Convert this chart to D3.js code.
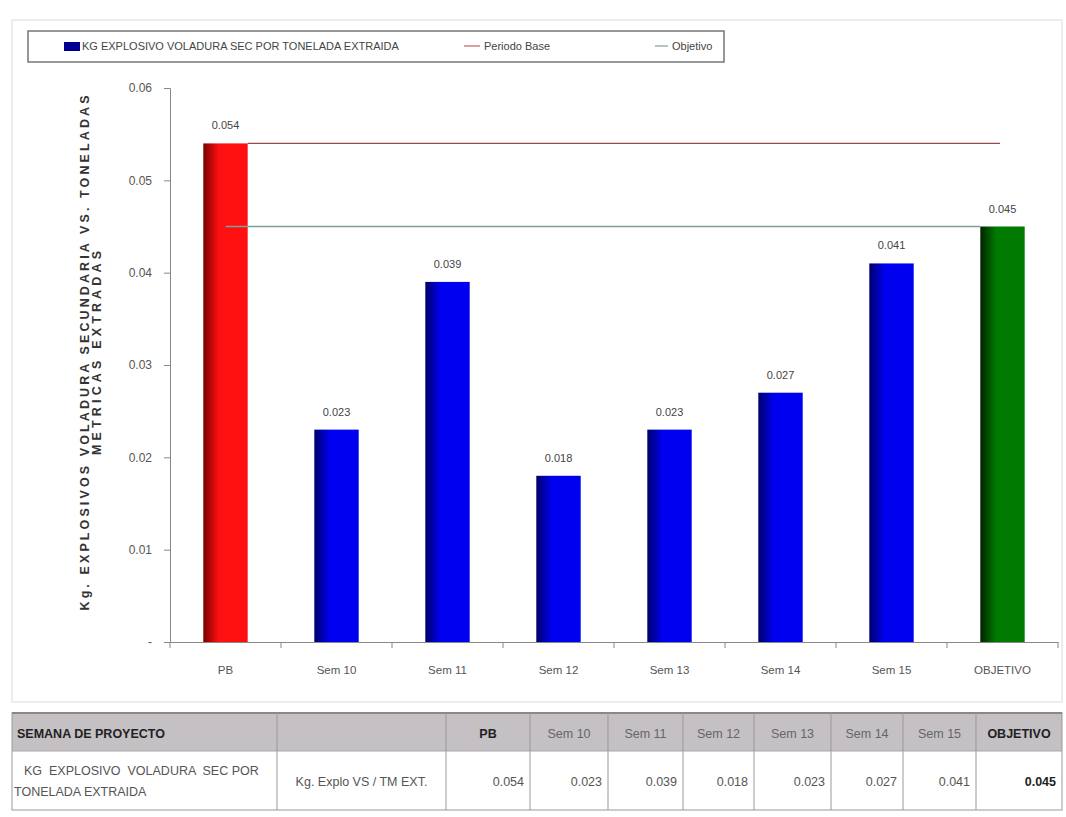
<!DOCTYPE html>
<html><head><meta charset="utf-8">
<script src="https://cdn.jsdelivr.net/npm/d3@7"></script>
<style>
body{margin:0;background:#fff;}
text{font-family:"Liberation Sans Narrow","Arial Narrow","Liberation Sans",sans-serif;}
</style></head>
<body><svg id="c" width="1066" height="817"></svg>
<script>
const categories = ["PB","Sem 10","Sem 11","Sem 12","Sem 13","Sem 14","Sem 15","OBJETIVO"];
const values = [0.054,0.023,0.039,0.018,0.023,0.027,0.041,0.045];
const valueLabels = ["0.054","0.023","0.039","0.018","0.023","0.027","0.041","0.045"];
const periodoBase = 0.054;
const objetivo = 0.045;
const yTicks = [0,0.01,0.02,0.03,0.04,0.05,0.06];
const legendLabels = ["KG EXPLOSIVO VOLADURA SEC POR TONELADA EXTRAIDA","Periodo Base","Objetivo"];
const tableHeader = ["SEMANA DE PROYECTO","","PB","Sem 10","Sem 11","Sem 12","Sem 13","Sem 14","Sem 15","OBJETIVO"];
const tableRow = ["KG  EXPLOSIVO  VOLADURA  SEC POR|TONELADA EXTRAIDA","Kg. Explo VS / TM EXT.","0.054","0.023","0.039","0.018","0.023","0.027","0.041","0.045"];

const svg = d3.select("#c");
const defs = svg.append("defs");
function grad(id, dark, bright){
  const g = defs.append("linearGradient").attr("id",id).attr("x1","0").attr("x2","1").attr("y1","0").attr("y2","0");
  g.append("stop").attr("offset","0%").attr("stop-color",dark);
  g.append("stop").attr("offset","35%").attr("stop-color",bright);
  g.append("stop").attr("offset","100%").attr("stop-color",bright);
}
grad("gR","#7a0000","#ff1010");
grad("gB","#00006a","#0000f0");
grad("gG","#002200","#007a00");

// frame
svg.append("rect").attr("x",12).attr("y",20).attr("width",1050).attr("height",682).attr("fill","none").attr("stroke","#dcdcdc");

const x = d3.scaleBand().domain(categories).range([170,1058]).paddingInner(0.6).paddingOuter(0.3);
const y = d3.scaleLinear().domain([0,0.06]).range([642,88]);

// y axis
const ya = svg.append("g").attr("transform","translate(170,0)")
  .call(d3.axisLeft(y).tickValues(yTicks).tickSize(6).tickPadding(12).tickFormat(d=> d===0 ? "-" : d3.format(".2f")(d)));
ya.selectAll("path,line").attr("stroke","#888");
ya.selectAll("text").attr("fill","#555").attr("font-size",12);

// x axis
const band = (1058-170)/categories.length;
const xa = svg.append("g").attr("transform","translate(0,642)")
  .call(d3.axisBottom(x).tickSize(0).tickPadding(24));
xa.select("path").attr("stroke","#888").attr("stroke-width",1.2);
xa.selectAll("text").attr("fill","#555").attr("font-size",11.5);
svg.append("g").selectAll("line").data(d3.range(categories.length+1)).join("line")
  .attr("x1",i=>170+i*band).attr("x2",i=>170+i*band).attr("y1",642).attr("y2",648).attr("stroke","#888");

// bars
svg.append("g").selectAll("rect").data(values).join("rect")
  .attr("x",(d,i)=>x(categories[i])).attr("width",x.bandwidth())
  .attr("y",d=>y(d)).attr("height",d=>y(0)-y(d))
  .attr("fill",(d,i)=> i===0 ? "url(#gR)" : (i===categories.length-1 ? "url(#gG)" : "url(#gB)"));

// reference lines
svg.append("line").attr("x1",x("PB")+x.bandwidth()).attr("x2",1000)
  .attr("y1",y(periodoBase)).attr("y2",y(periodoBase)).attr("stroke","#9a4a4a").attr("stroke-width",1.3);
svg.append("line").attr("x1",x("PB")+x.bandwidth()/2).attr("x2",x("OBJETIVO"))
  .attr("y1",y(objetivo)).attr("y2",y(objetivo)).attr("stroke","#7f9f9c").attr("stroke-width",1.5);

// data labels
svg.append("g").selectAll("text").data(values).join("text")
  .attr("x",(d,i)=>x(categories[i])+x.bandwidth()/2).attr("y",d=>y(d)-14)
  .attr("text-anchor","middle").attr("font-size",11).attr("fill","#444").text((d,i)=>valueLabels[i]);

// y title
const yt = svg.append("text").attr("transform","translate(89,353) rotate(-90)").attr("text-anchor","middle")
  .attr("style","font-family:'Liberation Sans',Arial,sans-serif").attr("font-weight","bold").attr("font-size",12.5).attr("fill","#333");
yt.append("tspan").attr("x",0).attr("dy",0).attr("textLength",515).attr("lengthAdjust","spacing").text("Kg. EXPLOSIVOS VOLADURA SECUNDARIA VS. TONELADAS");
yt.append("tspan").attr("x",0).attr("dy",12).attr("textLength",204).attr("lengthAdjust","spacing").text("METRICAS EXTRADAS");

// legend
svg.append("rect").attr("x",28).attr("y",31).attr("width",696).attr("height",31).attr("fill","#fff").attr("stroke","#777").attr("stroke-width",1.5);
svg.append("rect").attr("x",64).attr("y",42).attr("width",16).attr("height",9).attr("fill","#000090");
svg.append("text").attr("x",82).attr("y",50).attr("font-size",11).attr("fill","#444").text(legendLabels[0]);
svg.append("line").attr("x1",464).attr("x2",480).attr("y1",46).attr("y2",46).attr("stroke","#c06060").attr("stroke-width",1.2);
svg.append("text").attr("x",484).attr("y",50).attr("font-size",11).attr("fill","#444").text(legendLabels[1]);
svg.append("line").attr("x1",655).attr("x2",668).attr("y1",46).attr("y2",46).attr("stroke","#7f9f9c").attr("stroke-width",1.2);
svg.append("text").attr("x",672).attr("y",50).attr("font-size",11).attr("fill","#444").text(legendLabels[2]);

// table
const colX = [12,277,446,530,608,683,754,831,903,976,1062];
const t = svg.append("g");
const tTop=713, tMid=751, tBot=810;
t.append("rect").attr("x",12).attr("y",tTop).attr("width",1050).attr("height",tMid-tTop).attr("fill","#c4c0c4");
t.append("rect").attr("x",12).attr("y",tTop).attr("width",1050).attr("height",tBot-tTop).attr("fill","none").attr("stroke","#999");
t.append("line").attr("x1",12).attr("x2",1062).attr("y1",tTop).attr("y2",tTop).attr("stroke","#888").attr("stroke-width",2);
t.append("line").attr("x1",12).attr("x2",1062).attr("y1",tMid).attr("y2",tMid).attr("stroke","#aaa");
t.selectAll("line.c").data(colX.slice(1,-1)).join("line").attr("class","c")
  .attr("x1",d=>d).attr("x2",d=>d).attr("y1",tTop).attr("y2",tBot).attr("stroke","#999");
tableHeader.forEach((h,i)=>{
  const bold = (i===0||i===2||i===9);
  const tx = t.append("text").attr("y",738).attr("font-size",12.5)
    .attr("fill", bold? "#222":"#666").attr("font-weight", bold?"bold":"normal").text(h);
  if(i===0) tx.attr("x",17); else tx.attr("x",(colX[i]+colX[i+1])/2).attr("text-anchor","middle");
});
tableRow.forEach((v,i)=>{
  if(i===0){
    const parts=v.split("|");
    t.append("text").attr("x",24).attr("y",775).attr("font-size",12.5).attr("fill","#555").attr("xml:space","preserve").text(parts[0]);
    t.append("text").attr("x",14).attr("y",796).attr("font-size",12.5).attr("fill","#555").text(parts[1]);
  } else if(i===1){
    t.append("text").attr("x",(colX[1]+colX[2])/2).attr("y",786).attr("text-anchor","middle").attr("font-size",12.5).attr("fill","#555").text(v);
  } else {
    t.append("text").attr("x",colX[i+1]-6).attr("y",786).attr("text-anchor","end").attr("font-size",12.5)
      .attr("fill", i===9?"#222":"#555").attr("font-weight", i===9?"bold":"normal").text(v);
  }
});
</script></body></html>
